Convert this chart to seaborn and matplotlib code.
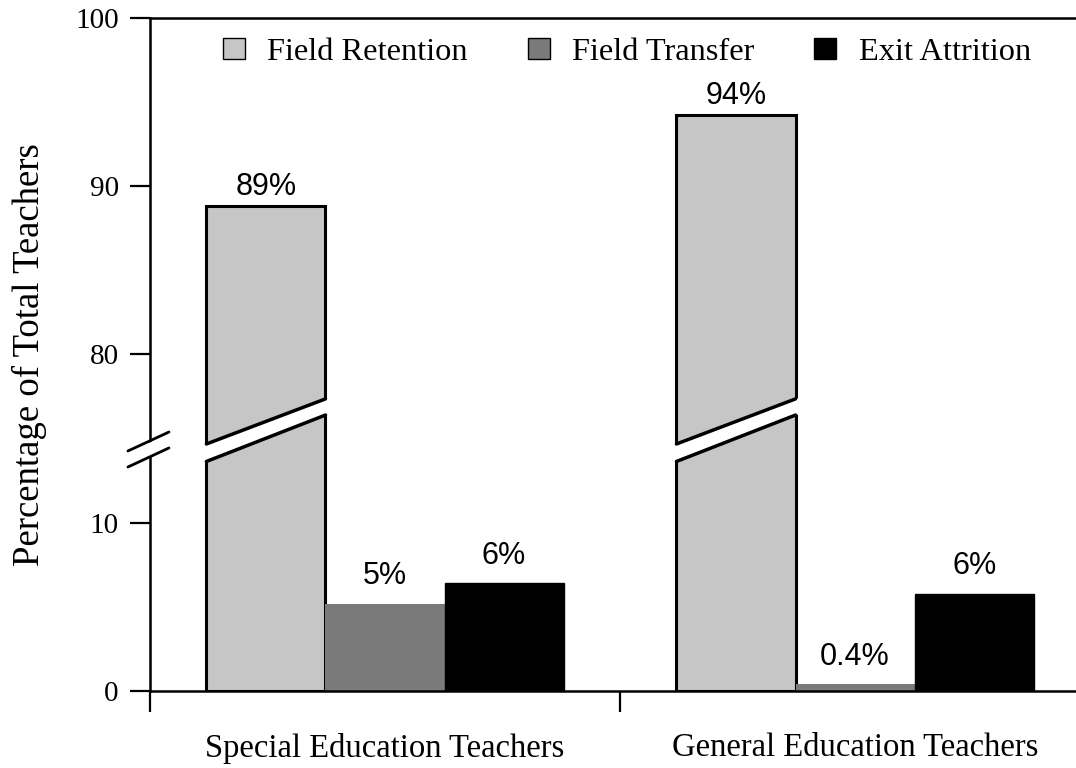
import numpy as np
import pandas as pd
import matplotlib.pyplot as plt
import seaborn as sns
from matplotlib.patches import Polygon, Patch
from matplotlib.lines import Line2D
from matplotlib.transforms import blended_transform_factory

groups = ["Special Education Teachers", "General Education Teachers"]
statuses = ["Field Retention", "Field Transfer", "Exit Attrition"]
retention = [88.8, 94.2]
transfer = [5.2, 0.4]
attrition = [6.4, 5.8]
colors = ["#c6c6c6", "#7a7a7a", "#000000"]

df = pd.DataFrame({
    "group": groups * 3,
    "status": np.repeat(statuses, 2),
    "pct": retention + transfer + attrition,
})

# broken y axis: squeeze the 15..75 range to almost nothing
lo, hi, eps = 15.0, 75.0, 1e-3


def fwd(y):
    y = np.asarray(y, dtype=float)
    return np.where(y <= lo, y, np.where(y >= hi, y - (hi - lo) * (1 - eps), lo + (y - lo) * eps))


def inv(t):
    t = np.asarray(t, dtype=float)
    mid = lo + (hi - lo) * eps
    return np.where(t <= lo, t, np.where(t >= mid, t + (hi - lo) * (1 - eps), lo + (t - lo) / eps))


sns.set_theme(style="white")
plt.rcParams["font.family"] = ["Liberation Serif", "DejaVu Serif"]
plt.rcParams["text.color"] = "black"
plt.rcParams["axes.labelcolor"] = "black"
plt.rcParams["xtick.color"] = "black"
plt.rcParams["ytick.color"] = "black"

fig = plt.figure(figsize=(10.76, 7.68), dpi=100)
ax = fig.add_axes([0.1394, 0.1003, 0.8606, 0.8763])

sns.barplot(data=df, x="group", y="pct", hue="status", order=groups, hue_order=statuses,
            palette=colors, saturation=1, width=0.76, ax=ax, legend=False)
ax.set_yscale("function", functions=(fwd, inv))

for i, cont in enumerate(ax.containers):
    for p in cont.patches:
        p.set_edgecolor("black")
        p.set_linewidth([2.2, 0, 1][i])

for cont, vals, pad in zip(ax.containers, [retention, transfer, attrition], [3, 9, 9]):
    labels = [f"{v:.0f}%" if v >= 1 else f"{v:.1f}%" for v in vals]
    ax.bar_label(cont, labels=labels, padding=pad, fontsize=22, family="Liberation Sans",
                 color="black")

# break marks on the tall bars
trans = blended_transform_factory(ax.transData, ax.transAxes)
for p in ax.containers[0].patches:
    x0 = p.get_x()
    x1 = x0 + p.get_width()
    d = 0.006
    ax.add_patch(Polygon([(x0 - d, 0.340), (x1 + d, 0.411), (x1 + d, 0.435), (x0 - d, 0.366)],
                         closed=True, facecolor="white", edgecolor="none", transform=trans, zorder=3))
    for ya, yb in [(0.341, 0.410), (0.367, 0.434)]:
        ax.add_line(Line2D([x0, x1], [ya, yb], transform=trans, color="black", lw=2.5, zorder=4))

# break marks on the y axis
ax.add_patch(Polygon([(-0.03, 0.330), (0.025, 0.364), (0.025, 0.382), (-0.03, 0.354)],
                     closed=True, facecolor="white", edgecolor="none", transform=ax.transAxes,
                     zorder=5, clip_on=False))
for ya, yb in [(0.3328, 0.3611), (0.3566, 0.3848)]:
    ax.add_line(Line2D([-0.0238, 0.0205], [ya, yb], transform=ax.transAxes, color="black",
                       lw=2, zorder=6, clip_on=False))

ax.set_ylim(0, 100)
ax.set_xlim(-0.5, 1.47)
ax.set_yticks([0, 10, 80, 90, 100], ["0", "10", "80", "90", "100"])
ax.tick_params(axis="y", direction="out", length=14.5, width=1.6, pad=8, labelsize=21,
               left=True, color="black")
ax.set_xticks([0, 1], groups)
ax.tick_params(axis="x", which="major", length=0, pad=30, labelsize=23.5)
ax.set_xticks([-0.5, 0.5], minor=True)
ax.tick_params(axis="x", which="minor", direction="out", length=15, width=1.6, bottom=True,
               color="black")

for side in ["top", "left", "bottom"]:
    ax.spines[side].set_color("black")
    ax.spines[side].set_linewidth(1.8)
ax.spines["right"].set_visible(False)

ax.set_xlabel("")
ax.set_ylabel("Percentage of Total Teachers", fontsize=26.5, labelpad=20)

handles = [Patch(facecolor=c, edgecolor="black", linewidth=1) for c in colors]
ax.legend(handles, statuses, loc="center", bbox_to_anchor=(0.515, 0.949), ncol=3,
          frameon=False, fontsize=23.3, handlelength=0.68, handleheight=0.6,
          handletextpad=0.7, columnspacing=1.85)

fig.savefig("out.png", dpi=100)
